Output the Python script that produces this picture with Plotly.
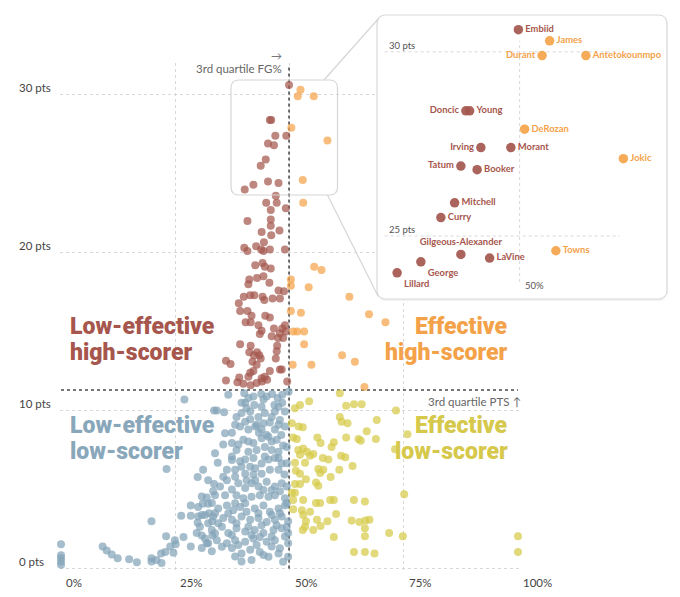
import plotly.graph_objects as go

W, H = 680, 597

# ---------------- data ----------------
FG_Q3 = 49.9    # 3rd quartile FG%
PTS_Q3 = 11.3   # 3rd quartile points per game

star_names = ["Embiid", "James", "Durant", "Antetokounmpo", "Doncic", "Young", "DeRozan",
              "Irving", "Morant", "Jokic", "Tatum", "Booker", "Mitchell", "Curry",
              "Gilgeous-Alexander", "LaVine", "Towns", "George", "Lillard"]
star_fg = [49.9, 52.4, 51.8, 55.3, 45.7, 46.0, 50.4, 46.9, 49.3, 58.3, 45.3, 46.6, 44.8, 43.7,
           45.3, 47.6, 52.9, 42.1, 40.2]
star_pts = [30.6, 30.3, 29.9, 29.9, 28.4, 28.4, 27.9, 27.4, 27.4, 27.1, 26.9, 26.8, 25.9, 25.5,
            24.5, 24.4, 24.6, 24.3, 24.0]
star_label_side = ["middle right", "middle right", "middle left", "middle right", "middle left",
                   "middle right", "middle right", "middle left", "middle right", "middle right",
                   "middle left", "middle right", "middle right", "middle right", "top center",
                   "middle right", "middle right", "bottom right", "bottom right"]

# other players (FG%, PTS)
low_eff_high = [
    (47.0, 23.6), (44.9, 23.15), (47.2, 23.15), (49.2, 22.8), (45.9, 22.7), (45.9, 22.1),
    (40.8, 22.0), (45.9, 21.7), (47.8, 21.4), (43.9, 21.3), (46.0, 21.1), (44.4, 20.65),
    (42.7, 20.4), (40.1, 20.3), (43.8, 20.2), (49.0, 20.2), (40.8, 20.1), (44.3, 20.1),
    (45.7, 20.2), (42.5, 19.2), (44.1, 19.35), (44.6, 19.1), (45.9, 19.0), (41.2, 18.3),
    (42.9, 18.4), (44.3, 18.5), (45.6, 18.1), (41.0, 18.0), (47.6, 17.6), (48.8, 17.55),
    (41.4, 17.3), (42.3, 17.3), (44.1, 17.2), (40.0, 17.2), (46.3, 17.1), (47.9, 17.1),
    (44.5, 17.0), (38.9, 16.8), (39.2, 16.3), (40.8, 16.3), (41.7, 16.0), (44.7, 16.0),
    (45.7, 15.9), (40.4, 15.6), (41.5, 15.6), (43.2, 15.4), (49.0, 15.4), (43.9, 15.05),
    (46.6, 15.2), (48.4, 15.2), (43.5, 14.85), (46.1, 14.7), (47.9, 14.9), (49.2, 15.0),
    (47.5, 14.6), (48.6, 14.6), (39.2, 14.2), (41.5, 14.1), (47.3, 14.1), (41.2, 13.7),
    (42.9, 13.7), (43.4, 13.5), (43.7, 13.3), (42.2, 13.5), (47.2, 13.75), (47.0, 13.3),
    (36.1, 13.15), (37.1, 12.95), (41.9, 13.1), (42.8, 12.9), (42.1, 12.5), (41.4, 12.4),
    (45.7, 12.5), (47.9, 12.6), (41.0, 12.15), (39.0, 12.1), (43.9, 12.05), (44.6, 12.15),
    (36.1, 11.9), (38.6, 11.8), (39.9, 11.7), (41.5, 11.6), (42.8, 11.75), (44.0, 11.85),
    (45.1, 11.95), (49.5, 11.85), (48.3, 12.6),
]
eff_high = [
    (53.0, 23.15), (55.4, 19.1), (57.0, 18.9), (50.3, 18.3), (50.3, 17.9), (54.2, 17.8),
    (63.1, 17.2), (50.3, 16.3), (52.5, 16.2), (67.4, 16.1), (71.0, 15.6), (50.8, 15.0),
    (51.7, 15.0), (53.2, 15.0), (53.2, 14.2), (61.5, 13.5), (64.3, 13.1), (50.7, 12.9),
    (54.8, 12.9), (66.4, 11.5),
]
low_eff_low = [
    (27.0, 10.7), (33.5, 10.0), (23.1, 6.3), (31.1, 6.25), (29.9, 5.8), (33.5, 5.35),
    (31.9, 4.5), (28.4, 4.0), (31.0, 4.1), (33.0, 4.15), (26.3, 3.35), (28.4, 3.35),
    (30.0, 3.3), (30.8, 3.4), (32.4, 3.5), (29.9, 2.9), (19.8, 3.0), (33.1, 3.0), (29.7, 2.25),
    (30.8, 2.1), (33.1, 2.1), (23.0, 2.05), (26.8, 2.0), (24.9, 1.8), (25.1, 1.55), (23.9, 1.4),
    (28.4, 1.4), (31.9, 1.6), (33.0, 1.1), (30.8, 1.3), (22.8, 1.05), (24.6, 1.0), (21.9, 0.95),
    (19.8, 0.65), (19.8, 0.45), (20.9, 0.55), (22.0, 0.35), (9.1, 1.4), (10.0, 1.15),
    (11.1, 0.9), (12.4, 0.65), (14.9, 0.6), (16.6, 0.4), (0.0, 1.55), (0.0, 0.85), (0.0, 0.65),
    (0.0, 0.45), (0.0, 0.25),
    (36.6, 11.0), (40.1, 11.1), (41.0, 10.8), (42.1, 10.9), (43.8, 11.05), (45.0, 10.9),
    (46.2, 11.05), (47.4, 10.8), (48.4, 11.0), (49.8, 11.2),
    (34.1, 10.0), (35.7, 9.9), (39.5, 10.5), (40.6, 10.15), (42.3, 10.35), (43.9, 10.25),
    (46.7, 10.35), (48.4, 10.5), (46.8, 9.95), (44.6, 9.85), (39.5, 9.85), (49.0, 9.95),
    (40.3, 9.3), (41.4, 9.45), (42.8, 9.1), (44.3, 9.2), (45.7, 9.25), (47.6, 9.1), (49.0, 9.0),
    (37.4, 8.6), (39.2, 9.0), (41.0, 8.8), (46.8, 8.8), (43.3, 8.6), (45.0, 8.45),
    (39.9, 8.15), (42.1, 7.95), (43.9, 8.25), (45.4, 8.35), (47.2, 8.15), (48.6, 7.8),
    (42.8, 7.5), (44.6, 7.7), (46.1, 7.5), (47.6, 7.4), (38.4, 7.5), (41.0, 7.4), (37.4, 7.95),
    (34.3, 6.7), (37.4, 7.1), (39.2, 6.8), (40.3, 6.9), (41.4, 6.45), (42.5, 6.35), (43.9, 6.65),
    (45.4, 6.9), (46.8, 7.0), (48.3, 6.65), (40.3, 6.0), (42.1, 5.95), (43.9, 6.0), (45.7, 6.25),
    (47.6, 6.25), (48.9, 5.95), (38.1, 6.25), (36.3, 6.25),
    (32.2, 5.6), (34.8, 5.2), (36.3, 5.6), (37.4, 5.0), (38.8, 5.4), (40.3, 5.1), (41.7, 5.4),
    (43.2, 5.2), (45.0, 5.5), (46.8, 5.2), (48.3, 5.4), (38.4, 4.65), (39.9, 4.45), (41.7, 4.55),
    (43.5, 4.65), (45.4, 4.55), (46.8, 4.65), (49.0, 4.45), (33.7, 4.65), (35.9, 4.65),
    (30.0, 3.9), (32.2, 4.1), (34.4, 3.8), (36.3, 4.0), (37.7, 3.7), (39.2, 3.9), (40.6, 3.6),
    (42.4, 3.8), (44.3, 4.0), (45.7, 3.6), (47.6, 3.8), (49.0, 4.0), (31.5, 3.4), (33.3, 3.3),
    (35.5, 3.2), (37.4, 3.1), (39.5, 3.3), (41.4, 3.1), (43.2, 3.2), (45.0, 2.95), (46.8, 3.1),
    (48.3, 3.3), (49.7, 3.0),
    (30.4, 2.65), (33.0, 2.45), (35.2, 2.65), (36.6, 2.25), (38.4, 2.55), (40.3, 2.35),
    (42.4, 2.45), (44.3, 2.25), (46.5, 2.45), (48.3, 2.55), (49.7, 2.25), (31.5, 1.9),
    (34.1, 1.8), (36.3, 1.6), (38.1, 1.8), (40.3, 1.7), (42.1, 1.9), (43.5, 2.0), (45.0, 1.7),
    (46.8, 1.8), (49.7, 1.6),
    (37.4, 1.3), (39.5, 0.95), (41.4, 1.2), (43.5, 1.05), (46.1, 1.4), (47.6, 0.95),
    (49.7, 0.75), (41.7, 0.55), (45.4, 0.75), (39.5, 0.45),
    (40.3, 10.5), (41.4, 9.95), (38.4, 9.6), (46.1, 9.6), (47.9, 9.4), (42.5, 9.0), (43.9, 8.8),
    (48.2, 8.45), (46.1, 8.05), (41.0, 8.05), (38.8, 7.85), (44.6, 7.1), (47.6, 7.0), (42.1, 7.0),
    (39.5, 6.45), (40.6, 5.6), (42.5, 5.6), (44.3, 4.98), (46.1, 4.98), (47.9, 4.9), (38.1, 4.14),
    (40.3, 4.14), (43.2, 3.5), (46.1, 3.4), (47.9, 3.5), (36.6, 3.5), (34.4, 2.87), (38.4, 2.87),
    (41.0, 2.65), (43.9, 2.75), (47.2, 2.75), (33.7, 2.24), (37.4, 2.13), (41.7, 2.13),
    (46.1, 2.03), (49.0, 2.03), (32.2, 1.6), (35.2, 1.39), (38.8, 1.5), (42.8, 1.5), (47.9, 1.29),
    (44.3, 0.86), (38.1, 0.76), (48.6, 0.44), (33.7, 3.5), (32.2, 2.87), (30.8, 4.56), (33.3, 4.9),
    (35.5, 5.82), (38.1, 5.82), (37.4, 6.88), (33.7, 7.3), (35.5, 7.85), (35.9, 8.57), (38.1, 9.1),
    (43.2, 9.6), (44.3, 10.7), (47.6, 10.25), (49.4, 7.7), (49.4, 6.67), (49.4, 5.2), (49.4, 4.14),
    (49.4, 2.65),
]
eff_low = [
    (61.0, 11.1), (54.3, 10.6), (51.2, 10.15), (52.3, 10.35), (62.4, 10.3), (64.1, 10.4),
    (65.8, 10.4), (73.3, 10.0), (61.0, 9.6), (61.4, 9.3), (62.7, 9.2), (69.1, 9.4), (50.5, 9.2),
    (52.0, 9.0), (52.9, 8.95), (66.9, 8.7), (75.8, 8.5), (50.8, 8.3), (51.6, 8.2), (56.1, 8.3),
    (62.4, 8.3), (65.1, 8.2), (65.6, 8.1), (68.9, 8.2), (56.8, 7.95), (59.7, 8.0), (59.2, 7.7),
    (73.1, 7.55), (51.9, 7.5), (53.0, 7.6), (53.8, 7.4), (52.3, 7.2), (54.5, 7.15), (55.2, 7.25),
    (57.3, 7.0), (58.5, 6.9), (61.3, 7.15), (62.2, 7.05), (51.2, 6.7), (53.4, 6.7), (63.8, 6.5),
    (56.3, 6.3), (57.4, 6.25), (56.7, 6.05), (60.9, 6.25), (51.4, 6.2), (52.3, 6.0), (59.0, 5.8),
    (53.6, 5.65), (55.8, 5.45), (56.3, 5.25), (51.2, 5.35), (52.3, 5.35), (50.5, 4.8),
    (51.2, 4.8), (75.1, 4.7), (50.8, 4.35), (53.0, 4.35), (55.8, 4.15), (56.7, 4.15),
    (58.9, 4.35), (59.7, 4.35), (64.1, 4.35), (66.5, 4.25), (50.8, 3.75), (52.7, 3.7),
    (54.5, 3.6), (53.0, 3.4), (60.2, 3.45), (53.6, 3.0), (56.0, 3.1), (58.3, 3.0), (63.6, 3.05),
    (65.3, 2.95), (66.6, 3.05), (67.5, 3.1), (53.4, 2.65), (52.9, 2.45), (55.2, 2.45),
    (56.8, 2.7), (66.5, 2.55), (59.7, 2.0), (66.5, 2.05), (71.8, 2.25), (74.8, 2.05),
    (100.0, 2.05), (64.1, 1.05), (66.5, 1.05), (68.6, 0.95), (100.0, 1.05),
]

x_ticks = [0, 25, 50, 75, 100]
x_tick_labels = ["0%", "25%", "50%", "75%", "100%"]
y_ticks = [0, 10, 20, 30]
y_tick_labels = ["0 pts", "10 pts", "20 pts", "30 pts"]
inset_y_ticks = [25, 30]
inset_y_tick_labels = ["25 pts", "30 pts"]
inset_x_ticks = [50]
inset_x_tick_labels = ["50%"]

quadrant_lines = {
    "leh": ["Low-effective", "high-scorer"],
    "eh": ["Effective", "high-scorer"],
    "lel": ["Low-effective", "low-scorer"],
    "el": ["Effective", "low-scorer"],
}

# ---------------- styles ----------------
COL = {"leh": "#a4574e", "eh": "#f5a44a", "lel": "#84a4b9", "el": "#d6ca48"}
TXT = {"leh": "#a6564c", "eh": "#f4a24a", "lel": "#89a7ba", "el": "#d5c84a"}
FONT = "Lato"
GRID = "#d8d8d8"


def quad(fg, pts):
    eff = fg > FG_Q3
    high = pts > PTS_Q3
    return ("eh" if eff else "leh") if high else ("el" if eff else "lel")


groups = {"leh": list(low_eff_high), "eh": list(eff_high), "lel": list(low_eff_low), "el": list(eff_low)}
for f, p in zip(star_fg, star_pts):
    groups[quad(f, p)].append((f, p))

fig = go.Figure()
for key in ["lel", "el", "leh", "eh"]:
    pts = groups[key]
    fig.add_trace(go.Scatter(
        x=[a for a, _ in pts], y=[b for _, b in pts], mode="markers",
        marker=dict(size=8, color=COL[key], opacity=0.72, line=dict(width=0)),
        cliponaxis=False, hoverinfo="skip", xaxis="x", yaxis="y"))

star_cols = [COL[quad(f, p)] for f, p in zip(star_fg, star_pts)]
star_txt = [TXT[quad(f, p)] for f, p in zip(star_fg, star_pts)]
fig.add_trace(go.Scatter(
    x=star_fg, y=star_pts, mode="markers+text", text=star_names,
    textposition=star_label_side,
    textfont=dict(family=FONT, size=9.4, color=star_txt, weight=700),
    marker=dict(size=9.5, color=star_cols, opacity=0.92, line=dict(width=0)),
    cliponaxis=False, hoverinfo="skip", xaxis="x2", yaxis="y2"))


# pixel helpers for decorative boxes
def P(x, y):
    return f"{x / W:.5f},{1 - y / H:.5f}"


def rrect(x0, y0, x1, y1, r):
    return (f"M {P(x0 + r, y0)} L {P(x1 - r, y0)} Q {P(x1, y0)} {P(x1, y0 + r)} "
            f"L {P(x1, y1 - r)} Q {P(x1, y1)} {P(x1 - r, y1)} L {P(x0 + r, y1)} "
            f"Q {P(x0, y1)} {P(x0, y1 - r)} L {P(x0, y0 + r)} Q {P(x0, y0)} {P(x0 + r, y0)} Z")


shapes = [
    dict(type="path", path=rrect(377, 16, 668, 301, 9), xref="paper", yref="paper",
         fillcolor="rgba(0,0,0,0.05)", line=dict(width=0), layer="below"),
    dict(type="path", path=rrect(377, 15, 667, 299, 9), xref="paper", yref="paper",
         fillcolor="rgba(0,0,0,0)", line=dict(color="#dadada", width=1.2), layer="above"),
    dict(type="path", path=rrect(231, 80, 337.5, 195, 8), xref="paper", yref="paper",
         fillcolor="rgba(0,0,0,0)", line=dict(color="#d6d6d6", width=1.2), layer="above"),
    dict(type="line", xref="paper", yref="paper", x0=324 / W, y0=1 - 80 / H, x1=379 / W, y1=1 - 18 / H,
         line=dict(color="#d6d6d6", width=1.2)),
    dict(type="line", xref="paper", yref="paper", x0=327.5 / W, y0=1 - 195 / H, x1=378 / W, y1=1 - 296 / H,
         line=dict(color="#d6d6d6", width=1.2)),
    dict(type="line", xref="x", yref="y", x0=FG_Q3, x1=FG_Q3, y0=0, y1=31.8,
         line=dict(color="#4a4a4a", width=1.6, dash="dot"), layer="between"),
    dict(type="line", xref="x", yref="y", x0=0, x1=100, y0=PTS_Q3, y1=PTS_Q3,
         line=dict(color="#4a4a4a", width=1.6, dash="dot"), layer="between"),
    dict(type="line", xref="x2", yref="y2", x0=39.2, x1=58.0, y0=30, y1=30,
         line=dict(color=GRID, width=1, dash="dot"), layer="between"),
    dict(type="line", xref="x2", yref="y2", x0=39.2, x1=58.0, y0=25, y1=25,
         line=dict(color=GRID, width=1, dash="dot"), layer="between"),
    dict(type="line", xref="x2", yref="y2", x0=50, x1=50, y0=23.75, y1=30.3,
         line=dict(color=GRID, width=1, dash="dot"), layer="between"),
]

ann = []
for v, lab in zip(x_ticks, x_tick_labels):
    ann.append(dict(x=v, y=0, xref="x", yref="y", text=lab, showarrow=False, xanchor="left",
                    yanchor="top", xshift=3, yshift=-5, font=dict(family=FONT, size=11.5, color="#444")))
for v, lab in zip(y_ticks, y_tick_labels):
    ann.append(dict(x=17 / W, y=v, xref="paper", yref="y", text=lab, showarrow=False, xanchor="left",
                    yanchor="bottom", yshift=-1, font=dict(family=FONT, size=11.5, color="#444")))
for v, lab in zip(inset_y_ticks, inset_y_tick_labels):
    ann.append(dict(x=39.4, y=v, xref="x2", yref="y2", text=lab, showarrow=False, xanchor="left",
                    yanchor="bottom", yshift=-1, font=dict(family=FONT, size=9.5, color="#555")))
for v, lab in zip(inset_x_ticks, inset_x_tick_labels):
    ann.append(dict(x=v, y=23.72, xref="x2", yref="y2", text=lab, showarrow=False, xanchor="left",
                    yanchor="middle", xshift=3, yshift=-2, font=dict(family=FONT, size=9.5, color="#555")))

ann += [
    dict(x=FG_Q3, y=32, xref="x", yref="y", text="3rd quartile FG%", showarrow=False,
         xanchor="right", yanchor="top", xshift=-5, yshift=3, font=dict(family=FONT, size=11.5, color="#666")),
    dict(x=FG_Q3, y=32, xref="x", yref="y", text="→", showarrow=False,
         xanchor="right", yanchor="bottom", xshift=-5, yshift=-1, font=dict(family=FONT, size=11, color="#777")),
    dict(x=100, y=PTS_Q3, xref="x", yref="y", text="3rd quartile PTS ↑", showarrow=False,
         xanchor="right", yanchor="top", xshift=5, yshift=-3, font=dict(family=FONT, size=11.5, color="#666")),
]

QF = "Roboto"
quad_pos = {"leh": (68, "left", 326), "eh": (510, "right", 326),
            "lel": (68, "left", 425), "el": (510, "right", 425)}
for key, (qx, side, qy) in quad_pos.items():
    for i, line in enumerate(quadrant_lines[key]):
        ann.append(dict(x=qx / W, y=1 - (qy + 26.5 * i) / H, xref="paper", yref="paper", text=line,
                        showarrow=False, xanchor=side, yanchor="middle", align=side,
                        font=dict(family=QF, size=23, color=TXT[key], weight=900)))

fig.update_layout(
    width=W, height=H, margin=dict(l=0, r=0, t=0, b=0),
    paper_bgcolor="white", plot_bgcolor="white", showlegend=False,
    xaxis=dict(domain=[60.1 / W, 518.9 / W], range=[-0.2, 100.2], tickvals=x_ticks,
               showticklabels=False, showgrid=True, gridcolor=GRID, griddash="dot", gridwidth=1,
               zeroline=False, showline=False, ticks="", fixedrange=True),
    yaxis=dict(domain=[1 - 570.2 / H, 1 - 63 / H], range=[-0.1, 32], tickvals=y_ticks,
               showticklabels=False, showgrid=True, gridcolor=GRID, griddash="dot", gridwidth=1,
               zeroline=False, showline=False, ticks="", fixedrange=True),
    xaxis2=dict(domain=[377 / W, 667 / W], range=[38.59, 61.79], anchor="y2", showgrid=False,
                zeroline=False, showticklabels=False, showline=False, ticks="", fixedrange=True),
    yaxis2=dict(domain=[1 - 299 / H, 1 - 15 / H], range=[23.29, 31.0], anchor="x2", showgrid=False,
                zeroline=False, showticklabels=False, showline=False, ticks="", fixedrange=True),
    shapes=shapes, annotations=ann,
)

fig.write_html("out.html", config={"displayModeBar": False},
               post_script="document.body.style.margin='0';")
